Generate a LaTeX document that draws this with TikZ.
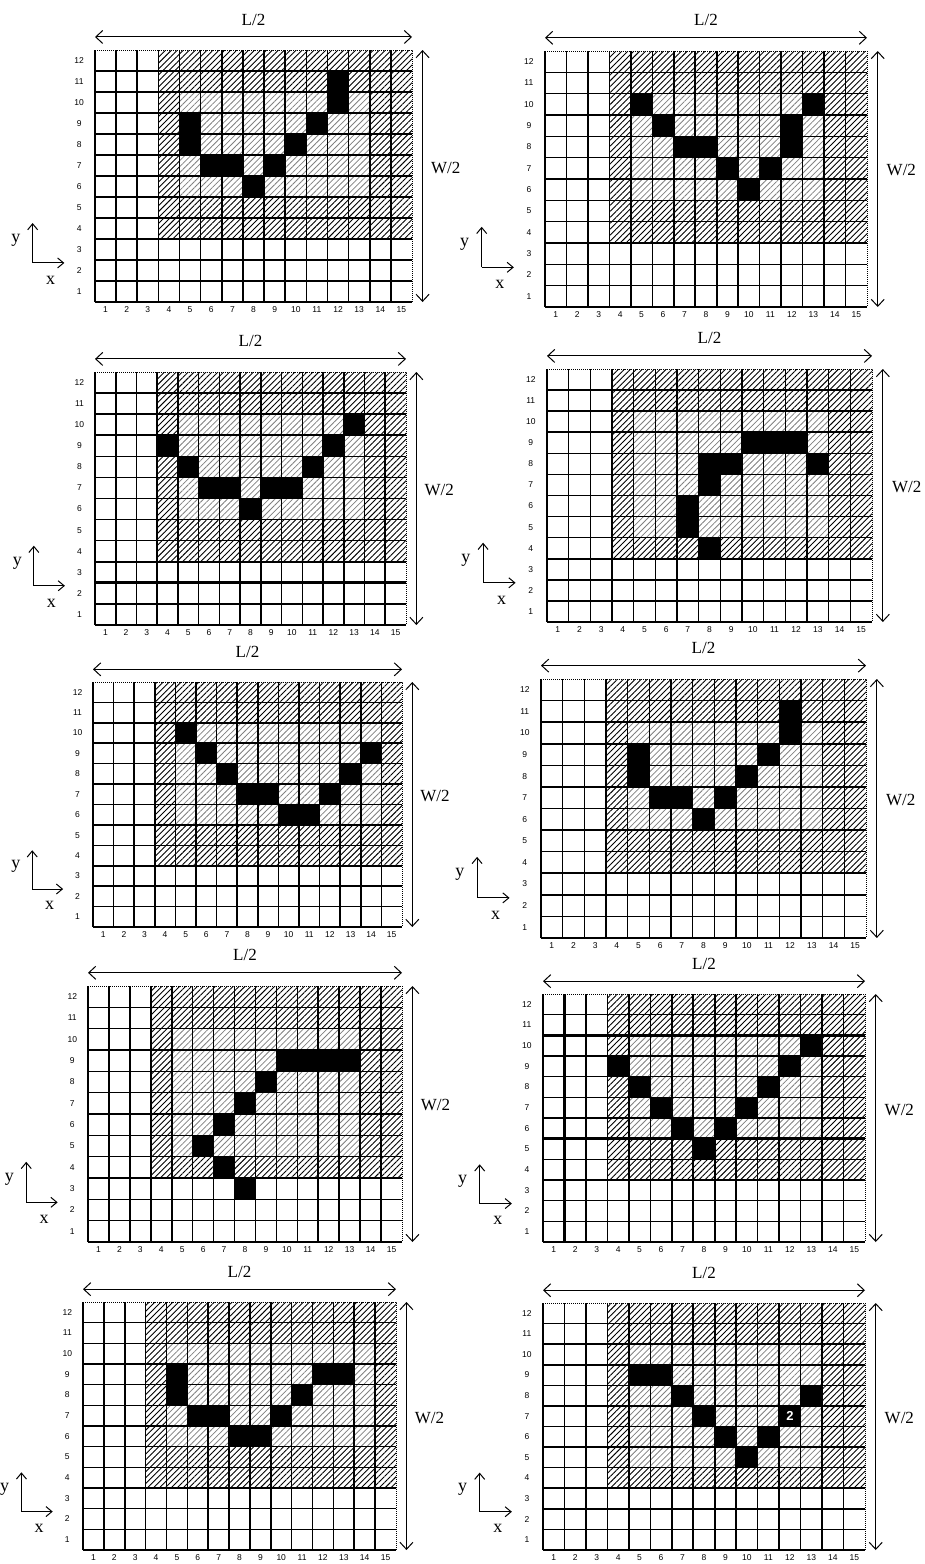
\documentclass[tikz,border=0pt]{standalone}
\usepackage{fontspec}
\setmainfont{Liberation Serif}
\setsansfont{Liberation Sans}
\usepackage{tikz}
\usetikzlibrary{arrows.meta,patterns.meta}

% one 15 x 12 cell field: name, left, top, right, bottom, black cells, lighter part, extras
\newcommand{\gridpanel}[8]{%
  \pgfmathsetmacro{\cw}{(#4-#2)/15}%
  \pgfmathsetmacro{\ch}{(#5-#3)/12}%
  \begin{scope}[shift={(#2,#5)}, x=\cw pt, y=\ch pt]
    \fill[hatch] (3,3) rectangle (15,12);
    \fill[white] #7;
    \fill[lighthatch] #7;
    \foreach \cx/\ry in {#6} \fill[black] (\cx-1,\ry-1) rectangle (\cx,\ry);
    \foreach \i in {0,...,14} \draw[gridline] (\i,0) -- (\i,12);
    \foreach \j in {0,...,11} \draw[gridline] (0,\j) -- (15,\j);
    \draw[edge] (0,12) -- (15,12) -- (15,0);
    #8
    \foreach \i in {1,...,15} \node[numlabel, anchor=north] (#1c\i) at (\i-0.5,-0.2) {\i};
    \foreach \j in {1,...,12} \node[numlabel] (#1r\j) at (-0.75,\j-0.5) {\j};
    \coordinate (#1la) at (0,12.62);
    \coordinate (#1lb) at (15,12.62);
    \coordinate (#1wa) at (15.5,12);
    \coordinate (#1wb) at (15.5,0);
    \coordinate (#1o) at (-2.95,1.86);
    \coordinate (#1ox) at (-1.45,1.86);
    \coordinate (#1oy) at (-2.95,3.76);
    \draw[dimline] (#1la) -- (#1lb);
    \draw[dimline] (#1wa) -- (#1wb);
    \draw[axisline] (#1o) -- (#1ox);
    \draw[axisline] (#1o) -- (#1oy);
    \node[dimlabel] (#1L) at (7.5,13.45) {L/2};
    \node[dimlabel] (#1W) at (16.6,6.4) {W/2};
    \node[axislabel] (#1y) at (-3.75,2.95) {y};
    \node[axislabel] (#1x) at (-2.1,1.05) {x};
  \end{scope}}

\begin{document}
\begin{tikzpicture}[x=1pt, y=-1pt,
    hatch/.style={pattern={Lines[angle=45,distance=4.2pt,line width=0.9pt]}, pattern color=black},
    lighthatch/.style={pattern={Lines[angle=45,distance=4.2pt,line width=0.8pt]}, pattern color=black!50},
    gridline/.style={line width=1.6pt},
    edge/.style={densely dotted, line width=1pt},
    scanline/.style={line width=2.8pt},
    dimline/.style={line width=1pt, {Straight Barb[length=7pt,width=13pt]}-{Straight Barb[length=7pt,width=13pt]}},
    axisline/.style={line width=1pt, -{Straight Barb[length=6pt,width=10pt]}},
    numlabel/.style={font=\sffamily\fontsize{8.5}{9}\selectfont, inner sep=0pt},
    dimlabel/.style={font=\fontsize{17}{18}\selectfont, inner sep=0pt},
    axislabel/.style={font=\fontsize{18}{19}\selectfont, inner sep=0pt},
    cellnum/.style={font=\sffamily\bfseries\fontsize{13}{14}\selectfont, text=white, inner sep=0pt}]
\useasboundingbox (0,0) rectangle (925,1564);

\gridpanel{pa}{95}{50}{412}{302}
  {12/11,12/10,5/9,11/9,5/8,10/8,6/7,7/7,9/7,8/6}{(4,5) rectangle (13,10)}{}
\gridpanel{pb}{545}{51}{867}{307}
  {5/10,13/10,6/9,12/9,7/8,8/8,12/8,9/7,11/7,10/6}{(4,5) rectangle (13,10)}{}
\gridpanel{pc}{95}{372}{406}{625}
  {13/10,4/9,12/9,5/8,11/8,6/7,7/7,9/7,10/7,8/6}{(4,5) rectangle (13,10)}
  {\draw[scanline] (0,11) -- (15,11); \draw[scanline] (0,2) -- (15,2);}
\gridpanel{pd}{547}{369}{872}{622}
  {10/9,11/9,12/9,8/8,9/8,13/8,8/7,7/6,7/5,8/4}{(4,4) rectangle (13,10)}{}
\gridpanel{pe}{93}{682}{402}{927}
  {5/10,6/9,14/9,7/8,13/8,8/7,9/7,12/7,10/6,11/6}{(4,5) rectangle (14,10)}{}
\gridpanel{pf}{541}{679}{866}{938}
  {12/11,12/10,5/9,11/9,5/8,10/8,6/7,7/7,9/7,8/6}{(4,5) rectangle (13,10)}
  {\draw[scanline] (3,0) -- (3,3);}
\gridpanel{pg}{88}{986}{402}{1242}
  {10/9,11/9,12/9,13/9,9/8,8/7,7/6,6/5,7/4,8/3}{(4,4) rectangle (13,10)}{}
\gridpanel{ph}{543}{994}{865}{1242}
  {13/10,4/9,12/9,5/8,11/8,6/7,10/7,7/6,9/6,8/5}{(4,5) rectangle (13,10)}
  {\draw[scanline] (0,10) -- (15,10); \draw[scanline] (1,0) -- (1,12); \draw[scanline] (0,5) -- (15,5);}
\gridpanel{pi}{83}{1302}{396}{1550}
  {5/9,12/9,13/9,5/8,11/8,6/7,7/7,10/7,8/6,9/6}{(4,5) rectangle (14,10)}{}
\gridpanel{pj}{543}{1303}{865}{1550}
  {5/9,6/9,7/8,13/8,8/7,12/7,9/6,11/6,10/5}{(4,4) rectangle (13,10)}
  {\node[cellnum] (pjtwo) at (11.5,6.5) {2};}
\end{tikzpicture}
\end{document}
